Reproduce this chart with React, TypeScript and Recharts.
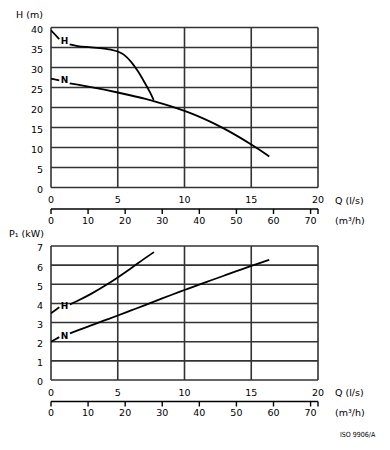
import React from 'react';
import { ComposedChart, Line, XAxis, YAxis, CartesianGrid, ReferenceDot } from 'recharts';

const FONT = 'DejaVu Sans, Verdana, sans-serif';

// Axis ticks
const flowLsTicks = [0, 5, 10, 15, 20];
const flowM3hTicks = [0, 10, 20, 30, 40, 50, 60, 70, 72];
const flowM3hRange = [{ m: 0, v: null }, { m: 72, v: null }];
const headTicks = [0, 5, 10, 15, 20, 25, 30, 35, 40];
const powerTicks = [0, 1, 2, 3, 4, 5, 6, 7];

// Head curves (q in l/s, v in m); null marks the gap under the curve label
const headH = [
  { q: 0, v: 39.3 }, { q: 0.62, v: 37.1 }, { q: 0.63, v: null },
  { q: 1.4, v: 35.8 }, { q: 2, v: 35.35 }, { q: 3, v: 35.05 }, { q: 4, v: 34.7 },
  { q: 4.5, v: 34.45 }, { q: 5, v: 34.0 }, { q: 5.5, v: 33.1 }, { q: 6, v: 31.4 },
  { q: 6.5, v: 29.1 }, { q: 7, v: 26.3 }, { q: 7.4, v: 23.9 }, { q: 7.69, v: 21.9 },
];
const headN = [
  { q: 0, v: 27.2 }, { q: 0.62, v: 26.8 }, { q: 0.63, v: null },
  { q: 1.4, v: 26.05 }, { q: 2, v: 25.7 }, { q: 3, v: 25.1 }, { q: 4, v: 24.45 },
  { q: 5, v: 23.75 }, { q: 6, v: 23.0 }, { q: 7, v: 22.2 }, { q: 8, v: 21.3 },
  { q: 9, v: 20.3 }, { q: 10, v: 19.15 }, { q: 11, v: 17.85 }, { q: 12, v: 16.35 },
  { q: 13, v: 14.65 }, { q: 14, v: 12.78 }, { q: 15, v: 10.75 }, { q: 16, v: 8.57 },
  { q: 16.35, v: 7.75 },
];

// Power curves (q in l/s, v in kW)
const powerH = [
  { q: 0, v: 3.48 }, { q: 0.62, v: 3.8 }, { q: 0.63, v: null },
  { q: 1.42, v: 3.95 }, { q: 2, v: 4.14 }, { q: 3, v: 4.5 }, { q: 4, v: 4.91 },
  { q: 5, v: 5.36 }, { q: 6, v: 5.84 }, { q: 7, v: 6.34 }, { q: 7.71, v: 6.68 },
];
const powerN = [
  { q: 0, v: 2.0 }, { q: 0.62, v: 2.24 }, { q: 0.63, v: null },
  { q: 1.42, v: 2.44 }, { q: 2, v: 2.59 }, { q: 3, v: 2.85 }, { q: 4, v: 3.11 },
  { q: 5, v: 3.37 }, { q: 6, v: 3.635 }, { q: 7, v: 3.9 }, { q: 8, v: 4.17 },
  { q: 9, v: 4.44 }, { q: 10, v: 4.7 }, { q: 11, v: 4.96 }, { q: 12, v: 5.21 },
  { q: 13, v: 5.46 }, { q: 14, v: 5.71 }, { q: 15, v: 5.96 }, { q: 16, v: 6.2 },
  { q: 16.35, v: 6.28 },
];

// Curve label anchor points
const headLabels = [
  { name: 'H', q: 1.02, v: 36.7 },
  { name: 'N', q: 1.02, v: 26.8 },
];
const powerLabels = [
  { name: 'H', q: 1.02, v: 3.85 },
  { name: 'N', q: 1.02, v: 2.33 },
];

const tickStyle = { fontSize: 9.5, fill: '#000', fontFamily: FONT };
const labelStyle = { fontSize: 9.5, fill: '#000', fontFamily: FONT };

function Panel(props: {
  yTicks: number[];
  yMax: number;
  yLabel: string;
  series: { q: number; v: number | null }[][];
  labels: { name: string; q: number; v: number }[];
  marginTop: number;
  marginBottom: number;
  height: number;
  yLabelOffset: number;
  yLabelDx: number;
}) {
  const { yTicks, yMax, yLabel, series, labels, marginTop, marginBottom, height, yLabelOffset, yLabelDx } = props;
  return (
    <ComposedChart
      width={390}
      height={height}
      margin={{ top: marginTop, right: 72, bottom: marginBottom, left: 0 }}
    >
      <CartesianGrid stroke="#333" strokeWidth={1.6} />
      <XAxis
        dataKey="q"
        type="number"
        domain={[0, 20]}
        ticks={flowLsTicks}
        allowDataOverflow
        axisLine={false}
        tickLine={false}
        tickSize={0}
        tickMargin={9}
        height={21.5}
        tick={tickStyle}
        label={{ value: 'Q (l/s)', position: 'right', offset: 17, dy: 2, style: labelStyle }}
      />
      <XAxis
        xAxisId="m3"
        dataKey="m"
        type="number"
        domain={[0, 72]}
        ticks={flowM3hTicks}
        interval={0}
        allowDataOverflow
        axisLine={{ stroke: '#000', strokeWidth: 1.4 }}
        tickLine={{ stroke: '#000', strokeWidth: 1.4 }}
        tickSize={5}
        tickMargin={3}
        height={21}
        tick={tickStyle}
        tickFormatter={(v: number) => (v === 72 ? '' : String(v))}
        label={{ value: '(m³/h)', position: 'right', offset: 17, dy: 1, style: labelStyle }}
      />
      <YAxis
        type="number"
        domain={[0, yMax]}
        ticks={yTicks}
        interval={0}
        width={51}
        axisLine={false}
        tickLine={false}
        tickSize={0}
        tickMargin={8}
        tick={{ ...tickStyle, dy: 2 }}
        label={{ value: yLabel, position: 'top', offset: yLabelOffset, dx: yLabelDx, style: labelStyle }}
      />
      <Line
        xAxisId="m3"
        data={flowM3hRange}
        dataKey="v"
        stroke="none"
        dot={false}
        activeDot={false}
        legendType="none"
        isAnimationActive={false}
      />
      {series.map((d, i) => (
        <Line
          key={i}
          data={d}
          dataKey="v"
          type="monotone"
          stroke="#000"
          strokeWidth={1.8}
          dot={false}
          activeDot={false}
          isAnimationActive={false}
        />
      ))}
      {labels.map((l) => (
        <ReferenceDot
          key={l.name}
          x={l.q}
          y={l.v}
          r={1}
          fill="none"
          stroke="none"
          label={{
            value: l.name,
            position: 'center',
            fill: '#000',
            fontSize: 9,
            fontWeight: 'bold',
            fontFamily: FONT,
          }}
        />
      ))}
    </ComposedChart>
  );
}

export default function App() {
  return (
    <div
      style={{
        position: 'absolute',
        left: 0,
        top: 0,
        width: 390,
        height: 450,
        background: '#fff',
        fontFamily: FONT,
      }}
    >
      <div style={{ position: 'absolute', left: 0, top: 0 }}>
        <Panel
          yTicks={headTicks}
          yMax={40}
          yLabel="H (m)"
          series={[headH, headN]}
          labels={headLabels}
          marginTop={27.5}
          marginBottom={0}
          height={230}
          yLabelOffset={10}
          yLabelDx={4}
        />
      </div>
      <div style={{ position: 'absolute', left: 0, top: 220 }}>
        <Panel
          yTicks={powerTicks}
          yMax={7}
          yLabel="P₁ (kW)"
          series={[powerH, powerN]}
          labels={powerLabels}
          marginTop={26}
          marginBottom={27.5}
          height={230}
          yLabelOffset={9}
          yLabelDx={1}
        />
      </div>
      <div
        style={{
          position: 'absolute',
          left: 340,
          top: 431,
          fontSize: 7,
          fontFamily: 'DejaVu Sans Condensed, DejaVu Sans, sans-serif',
          color: '#000',
          whiteSpace: 'nowrap',
        }}
      >
        ISO 9906/A
      </div>
    </div>
  );
}
